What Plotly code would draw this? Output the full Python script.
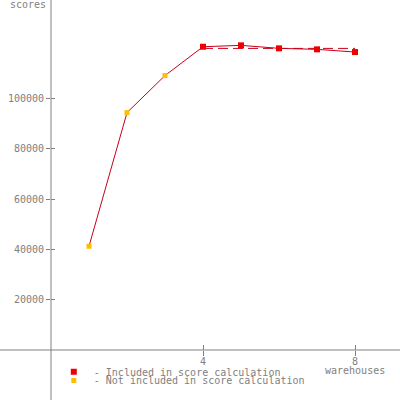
import plotly.graph_objects as go

# ---- data ----
warehouses = [1, 2, 3, 4, 5, 6, 7, 8]
scores = [41240, 94370, 109100, 120560, 121110, 119920, 119520, 118450]
included = [False, False, False, True, True, True, True, True]
score_x = [4, 8]
score_value = 119900
ytick_vals = [20000, 40000, 60000, 80000, 100000]
xtick_vals = [4, 8]

LINE = "#c8001a"
RED = "#ee0000"
YEL = "#ffbe00"
GRAY = "#808080"
FONT = "DejaVu Sans Mono"

inc_x = [w for w, i in zip(warehouses, included) if i]
inc_y = [s for s, i in zip(scores, included) if i]
exc_x = [w for w, i in zip(warehouses, included) if not i]
exc_y = [s for s, i in zip(scores, included) if not i]

fig = go.Figure()
fig.add_trace(go.Scatter(x=warehouses, y=scores, mode="lines",
                         line=dict(color=LINE, width=1), showlegend=False, hoverinfo="skip"))
fig.add_trace(go.Scatter(x=score_x, y=[score_value, score_value], mode="lines",
                         line=dict(color=LINE, width=1, dash="10px,5px"),
                         showlegend=False, hoverinfo="skip"))
fig.add_trace(go.Scatter(x=inc_x, y=inc_y, mode="markers",
                         marker=dict(symbol="square", size=6, color=RED),
                         name="- Included in score calculation", legend="legend"))
fig.add_trace(go.Scatter(x=exc_x, y=exc_y, mode="markers",
                         marker=dict(symbol="square", size=5, color=YEL),
                         name="- Not included in score calculation", legend="legend2"))
# invisible trace to register the overlay axes (inner tick halves)
fig.add_trace(go.Scatter(x=[None], y=[None], xaxis="x2", yaxis="y2",
                         showlegend=False, hoverinfo="skip"))

xr = [0, 349 / 38]
yr = [0, 139140]
tf = dict(family=FONT, size=10, color=GRAY)

legend_common = dict(font=tf, bgcolor="rgba(0,0,0,0)", borderwidth=0,
                     xanchor="left", yanchor="middle", itemwidth=30,
                     tracegroupgap=0)

fig.update_layout(
    width=400, height=400,
    margin=dict(l=51, r=0, t=0, b=50, autoexpand=False),
    plot_bgcolor="white", paper_bgcolor="white",
    xaxis=dict(range=xr, tickvals=xtick_vals, ticks="outside", ticklen=5,
               tickcolor=GRAY, tickfont=tf, showgrid=False, zeroline=False,
               showline=False, fixedrange=True, automargin=False,
               ticklabelstandoff=-3),
    yaxis=dict(range=yr, tickvals=ytick_vals, tickformat="d", ticks="outside", ticklen=4,
               tickcolor=GRAY, tickfont=tf, showgrid=False, zeroline=False,
               showline=False, fixedrange=True, automargin=False),
    xaxis2=dict(range=xr, overlaying="x", anchor="y", tickvals=xtick_vals,
                ticks="inside", ticklen=5, tickcolor=GRAY, showticklabels=False,
                showgrid=False, zeroline=False, showline=False, automargin=False),
    yaxis2=dict(range=yr, overlaying="y", anchor="x", tickvals=ytick_vals,
                ticks="inside", ticklen=4, tickcolor=GRAY, showticklabels=False,
                showgrid=False, zeroline=False, showline=False, automargin=False),
    showlegend=True,
    legend=dict(x=0.008, y=-0.062, **legend_common),
    legend2=dict(x=0.008, y=-0.087, **legend_common),
    shapes=[
        dict(type="line", xref="paper", yref="paper", x0=0, x1=0, y0=-50 / 350, y1=1,
             line=dict(color=GRAY, width=1)),
        dict(type="line", xref="paper", yref="paper", x0=-51 / 349, x1=1, y0=0, y1=0,
             line=dict(color=GRAY, width=1)),
    ],
    annotations=[
        dict(text="scores", xref="paper", yref="paper", x=0, y=1, xanchor="right",
             yanchor="top", xshift=-3, yshift=3, showarrow=False, font=tf),
        dict(text="warehouses", xref="x", yref="paper", x=8, y=0, xanchor="center",
             yanchor="top", yshift=-13, showarrow=False, font=tf),
    ],
)

fig.write_html("out.html",
               config={"displayModeBar": False, "staticPlot": True},
               post_script="document.body.style.margin='0';document.body.style.overflow='hidden';")
